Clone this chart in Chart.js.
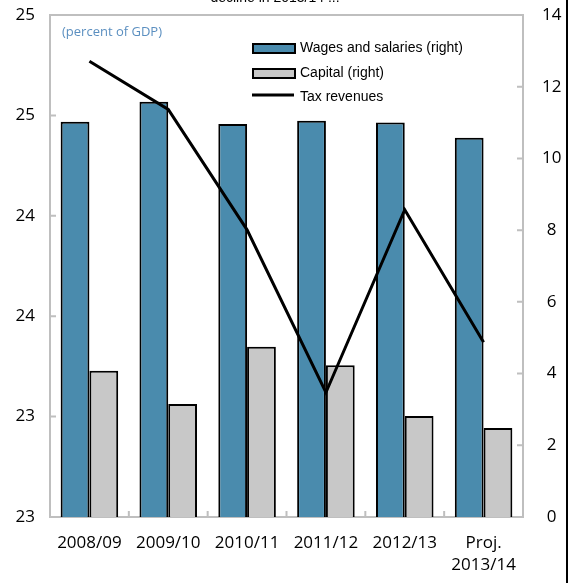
<!DOCTYPE html>
<html>
<head>
<meta charset="utf-8">
<script src="https://cdn.jsdelivr.net/npm/chart.js@4.4.1/dist/chart.umd.min.js"></script>
<style>
  html, body { margin: 0; padding: 0; background: #fff; }
  #wrap { width: 572px; height: 583px; }
</style>
</head>
<body>
<div id="wrap"><canvas id="myChart" width="572" height="583"></canvas></div>
<script>
// Datos
const categories = ['2008/09', '2009/10', '2010/11', '2011/12', '2012/13', ['Proj.', '2013/14']];
const wages = [11.02, 11.58, 10.96, 11.05, 11.0, 10.58];      // eje derecho
const capital = [4.08, 3.15, 4.75, 4.23, 2.82, 2.48];         // eje derecho
const taxRevenues = [24.77, 24.53, 23.93, 23.12, 24.03, 23.37]; // eje izquierdo
const leftTicks = [22.5, 25, 0.5];   // min, max, step
const rightTicks = [0, 14, 2];

const axisGray = '#bfbfbf';
const blue = '#4a8bad';
const gray = '#c8c8c8';
const tickFont = { family: 'Open Sans', size: 17, lineHeight: 1.3 };

// *****************************************************************************
// Marco, marcas hacia dentro, leyenda y textos
const frame = {
    id: 'frame',
    beforeDatasetsDraw(chart) {
        const { ctx, chartArea: a, scales } = chart;
        ctx.save();
        ctx.strokeStyle = axisGray;
        ctx.lineWidth = 2;
        ctx.beginPath();
        ctx.moveTo(a.left - 1, a.top);
        ctx.lineTo(a.right + 1, a.top);
        ctx.stroke();

        ctx.beginPath();
        scales.y.ticks.forEach((t) => {
            if (t.value <= leftTicks[0] || t.value >= leftTicks[1]) return;
            const py = scales.y.getPixelForValue(t.value);
            ctx.moveTo(a.left, py);
            ctx.lineTo(a.left + 6, py);
        });
        scales.y1.ticks.forEach((t) => {
            if (t.value <= rightTicks[0] || t.value >= rightTicks[1]) return;
            const py = scales.y1.getPixelForValue(t.value);
            ctx.moveTo(a.right, py);
            ctx.lineTo(a.right - 6, py);
        });
        for (let i = 1; i < categories.length; i++) {
            const px = (scales.x.getPixelForTick(i - 1) + scales.x.getPixelForTick(i)) / 2;
            ctx.moveTo(px, a.bottom);
            ctx.lineTo(px, a.bottom - 6);
        }
        ctx.stroke();
        ctx.restore();
    },
    afterDraw(chart) {
        const { ctx, chartArea: a } = chart;
        ctx.save();
        // título cortado arriba
        ctx.fillStyle = '#000';
        ctx.font = '14px "Liberation Sans"';
        ctx.textAlign = 'center';
        ctx.textBaseline = 'alphabetic';
        ctx.fillText('decline in 2013/14 ...', 275, 2);

        // nota de unidades
        ctx.fillStyle = '#5b8fc0';
        ctx.font = '13px "Open Sans"';
        ctx.textAlign = 'left';
        ctx.textBaseline = 'middle';
        ctx.fillText('(percent of GDP)', a.left + 12, 32);

        // leyenda
        const ds = chart.data.datasets;
        const rows = [48, 73, 97];
        ctx.font = '14px "Liberation Sans"';
        ds.forEach((d, i) => {
            const y = rows[i];
            if (d.type === 'line') {
                ctx.strokeStyle = d.borderColor;
                ctx.lineWidth = 3;
                ctx.beginPath();
                ctx.moveTo(252, y - 2);
                ctx.lineTo(294, y - 2);
                ctx.stroke();
            } else {
                ctx.fillStyle = d.backgroundColor;
                ctx.fillRect(253, y - 4, 42, 9);
                ctx.strokeStyle = '#000';
                ctx.lineWidth = 2;
                ctx.strokeRect(253, y - 4, 42, 9);
            }
            ctx.fillStyle = '#000';
            ctx.fillText(d.label, 300, y);
        });

        // borde negro a la derecha
        ctx.fillStyle = '#000';
        ctx.fillRect(566, 0, 2, 583);
        ctx.restore();
    }
};

// Ajuste fijo de los ejes
function fixVertical(width) {
    return (s) => {
        s.width = width;
        s.paddingTop = 0;
        s.paddingBottom = 0;
    };
}

// *****************************************************************************
// Gráfica
const canvas = document.getElementById('myChart');

const data = {
    labels: categories,
    datasets: [
        {
            type: 'bar',
            label: 'Wages and salaries (right)',
            data: wages,
            yAxisID: 'y1',
            backgroundColor: blue,
            borderColor: '#000',
            borderWidth: 2,
            categoryPercentage: 0.73,
            barPercentage: 1,
            order: 1
        },
        {
            type: 'bar',
            label: 'Capital (right)',
            data: capital,
            yAxisID: 'y1',
            backgroundColor: gray,
            borderColor: '#000',
            borderWidth: 2,
            categoryPercentage: 0.73,
            barPercentage: 1,
            order: 1
        },
        {
            type: 'line',
            label: 'Tax revenues',
            data: taxRevenues,
            yAxisID: 'y',
            borderColor: '#000',
            borderWidth: 3,
            pointRadius: 0,
            tension: 0,
            order: 0
        }
    ]
};

const config = {
    type: 'bar',
    data: data,
    options: {
        responsive: false,
        animation: false,
        devicePixelRatio: 1,
        layout: { padding: { top: 15, left: 0, right: 0, bottom: 0 } },
        plugins: {
            legend: { display: false },
            tooltip: { enabled: false }
        },
        scales: {
            x: {
                grid: { display: false, drawTicks: false },
                border: { display: true, color: axisGray, width: 2 },
                ticks: { color: '#000', font: tickFont, padding: 15, maxRotation: 0, autoSkip: false },
                afterFit: (s) => {
                    s.height = 66;
                    s.paddingLeft = 0;
                    s.paddingRight = 0;
                }
            },
            y: {
                position: 'left',
                min: leftTicks[0],
                max: leftTicks[1],
                grid: { display: false, drawTicks: false },
                border: { display: true, color: axisGray, width: 2 },
                ticks: {
                    stepSize: leftTicks[2],
                    color: '#000',
                    font: tickFont,
                    padding: 15,
                    crossAlign: 'center',
                    callback: (v) => Math.round(v)
                },
                afterFit: fixVertical(50)
            },
            y1: {
                position: 'right',
                min: rightTicks[0],
                max: rightTicks[1],
                grid: { display: false, drawTicks: false },
                border: { display: true, color: axisGray, width: 2 },
                ticks: {
                    stepSize: rightTicks[2],
                    color: '#000',
                    font: tickFont,
                    padding: 19,
                    crossAlign: 'center'
                },
                afterFit: fixVertical(49)
            }
        }
    },
    plugins: [frame]
};

const myChart = new Chart(canvas, config);
</script>
</body>
</html>
